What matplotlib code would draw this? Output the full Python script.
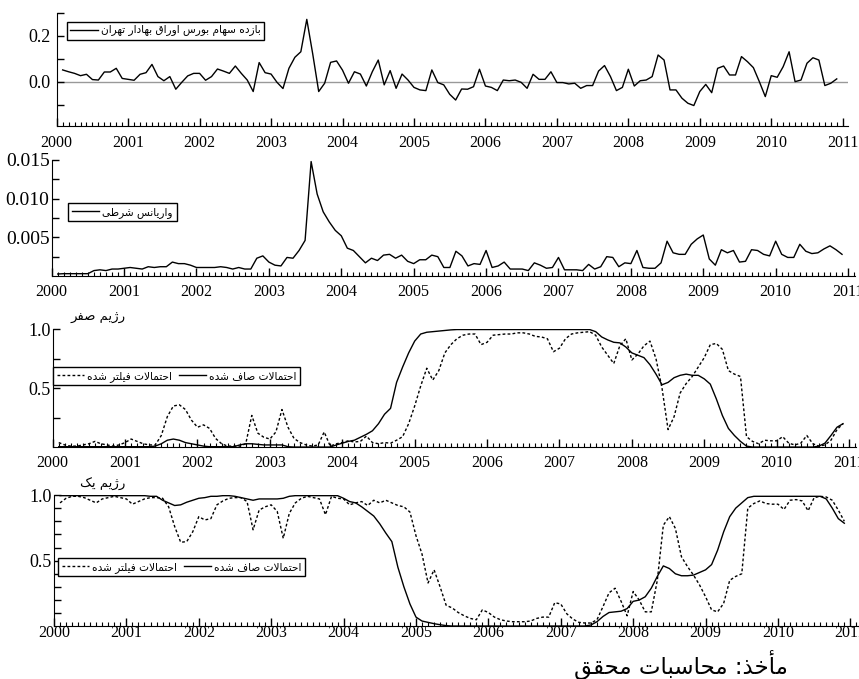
import numpy as np
import matplotlib
matplotlib.use("Agg")
import matplotlib.pyplot as plt
from matplotlib.lines import Line2D
from matplotlib.ticker import FixedLocator, MultipleLocator

plt.rcParams['font.family'] = ['Liberation Serif', 'DejaVu Sans']

# monthly observations, Feb 2000 .. Dec 2010
months = np.arange(1, 132)
year_ticks = list(range(2000, 2012))
year_labels = [str(y) for y in year_ticks]

returns = [
    0.051, 0.043, 0.036, 0.026, 0.032, 0.009, 0.007, 0.042, 0.042, 0.058,
    0.014, 0.010, 0.006, 0.032, 0.039, 0.075, 0.022, 0.004, 0.022, -0.033,
    -0.003, 0.025, 0.036, 0.036, 0.006, 0.022, 0.055, 0.046, 0.036, 0.068,
    0.036, 0.007, -0.043, 0.083, 0.039, 0.033, -0.003, -0.030, 0.058, 0.106,
    0.130, 0.271, 0.120, -0.043, -0.007, 0.084, 0.090, 0.050, -0.007, 0.043,
    0.033, -0.019, 0.043, 0.094, -0.014, 0.048, -0.029, 0.033, 0.007, -0.025,
    -0.036, -0.039, 0.051, -0.004, -0.014, -0.055, -0.080, -0.032, -0.033, -0.022,
    0.054, -0.019, -0.025, -0.039, 0.007, 0.004, 0.007, -0.003, -0.029, 0.032,
    0.010, 0.010, 0.043, -0.004, -0.004, -0.010, -0.007, -0.029, -0.017, -0.017,
    0.046, 0.070, 0.022, -0.039, -0.025, 0.054, -0.019, 0.004, 0.007, 0.022,
    0.116, 0.094, -0.036, -0.036, -0.072, -0.094, -0.104, -0.043, -0.012, -0.048,
    0.058, 0.068, 0.029, 0.029, 0.109, 0.087, 0.061, 0.000, -0.065, 0.026,
    0.019, 0.065, 0.130, 0.000, 0.007, 0.080, 0.104, 0.094, -0.017, -0.007,
    0.012,
]

cond_variance = [
    0.00026, 0.0003, 0.0003, 0.0003, 0.0003, 0.0003, 0.0007, 0.0008, 0.0007, 0.0009,
    0.0009, 0.0010, 0.0011, 0.0010, 0.0009, 0.0012, 0.0011, 0.0012, 0.0012, 0.0018,
    0.0016, 0.0016, 0.0014, 0.0011, 0.0011, 0.0011, 0.0011, 0.0012, 0.0011, 0.0009,
    0.0011, 0.0009, 0.0009, 0.0023, 0.0026, 0.0018, 0.0014, 0.0013, 0.0024, 0.0023,
    0.0033, 0.0046, 0.0148, 0.0106, 0.0083, 0.0070, 0.0059, 0.0052, 0.0036, 0.0033,
    0.0025, 0.0017, 0.0023, 0.0020, 0.0027, 0.0028, 0.0023, 0.0027, 0.0019, 0.0016,
    0.0021, 0.0021, 0.0027, 0.0025, 0.0011, 0.0011, 0.0032, 0.0026, 0.0013, 0.0016,
    0.0015, 0.0033, 0.0011, 0.0013, 0.0018, 0.0009, 0.0009, 0.0009, 0.0007, 0.0017,
    0.0014, 0.0010, 0.0011, 0.0024, 0.0008, 0.0008, 0.0008, 0.0007, 0.0015, 0.0009,
    0.0012, 0.0025, 0.0024, 0.0012, 0.0017, 0.0016, 0.0033, 0.0011, 0.0010, 0.0010,
    0.0017, 0.0045, 0.0030, 0.0028, 0.0028, 0.0041, 0.0048, 0.0053, 0.0022, 0.0014,
    0.0034, 0.0030, 0.0033, 0.0018, 0.0019, 0.0034, 0.0033, 0.0028, 0.0026, 0.0045,
    0.0028, 0.0024, 0.0024, 0.0041, 0.0032, 0.0029, 0.0030, 0.0035, 0.0039, 0.0034,
    0.0028,
]

regime0_smoothed = [
    0.005, 0.005, 0.005, 0.005, 0.005, 0.005, 0.005, 0.005, 0.005, 0.005,
    0.005, 0.005, 0.005, 0.005, 0.005, 0.005, 0.01, 0.03, 0.06, 0.07,
    0.06, 0.04, 0.03, 0.02, 0.01, 0.005, 0.005, 0.005, 0.005, 0.005,
    0.02, 0.03, 0.03, 0.025, 0.02, 0.02, 0.02, 0.02, 0.005, 0.002,
    0.002, 0.002, 0.002, 0.002, 0.002, 0.002, 0.02, 0.035, 0.05, 0.06,
    0.085, 0.11, 0.14, 0.20, 0.28, 0.33, 0.55, 0.68, 0.80, 0.90,
    0.96, 0.975, 0.98, 0.985, 0.99, 0.995, 0.998, 0.998, 0.998, 0.998,
    0.998, 0.998, 0.998, 0.998, 0.998, 0.998, 0.998, 0.998, 0.998, 0.998,
    0.998, 0.998, 0.998, 0.998, 0.998, 0.998, 0.998, 0.998, 0.998, 0.98,
    0.935, 0.91, 0.89, 0.885, 0.85, 0.80, 0.78, 0.76, 0.70, 0.62,
    0.53, 0.55, 0.59, 0.61, 0.62, 0.61, 0.61, 0.58, 0.535, 0.41,
    0.27, 0.16, 0.10, 0.05, 0.01, 0.002, 0.002, 0.002, 0.002, 0.002,
    0.002, 0.002, 0.002, 0.002, 0.002, 0.002, 0.01, 0.035, 0.10, 0.17,
    0.20,
]

regime0_filtered = [
    0.04, 0.02, 0.01, 0.01, 0.02, 0.03, 0.05, 0.03, 0.02, 0.01,
    0.02, 0.04, 0.07, 0.05, 0.03, 0.02, 0.02, 0.10, 0.26, 0.35,
    0.36, 0.32, 0.23, 0.17, 0.19, 0.16, 0.075, 0.03, 0.01, 0.01,
    0.01, 0.03, 0.27, 0.12, 0.085, 0.07, 0.13, 0.32, 0.17, 0.075,
    0.04, 0.02, 0.01, 0.02, 0.13, 0.01, 0.03, 0.04, 0.055, 0.045,
    0.05, 0.095, 0.04, 0.03, 0.04, 0.035, 0.06, 0.09, 0.20, 0.35,
    0.52, 0.67, 0.57, 0.65, 0.80, 0.87, 0.92, 0.95, 0.96, 0.96,
    0.87, 0.89, 0.95, 0.955, 0.96, 0.96, 0.97, 0.97, 0.96, 0.94,
    0.935, 0.92, 0.81, 0.84, 0.92, 0.96, 0.97, 0.975, 0.98, 0.95,
    0.85, 0.78, 0.71, 0.86, 0.92, 0.74, 0.79, 0.86, 0.90, 0.75,
    0.50, 0.15, 0.26, 0.46, 0.54, 0.60, 0.68, 0.76, 0.87, 0.88,
    0.83, 0.65, 0.62, 0.60, 0.09, 0.05, 0.03, 0.06, 0.055, 0.055,
    0.09, 0.035, 0.02, 0.035, 0.10, 0.03, 0.01, 0.02, 0.06, 0.15,
    0.20,
]

regime1_smoothed = [
    0.995, 0.995, 0.995, 0.995, 0.995, 0.995, 0.995, 0.995, 0.995, 0.995,
    0.995, 0.995, 0.995, 0.995, 0.995, 0.99, 0.99, 0.96, 0.94, 0.92,
    0.925, 0.945, 0.96, 0.975, 0.98, 0.99, 0.99, 0.995, 0.995, 0.99,
    0.98, 0.97, 0.96, 0.97, 0.97, 0.97, 0.97, 0.975, 0.99, 0.995,
    0.995, 0.995, 0.995, 0.995, 0.995, 0.995, 0.995, 0.975, 0.95, 0.94,
    0.91, 0.875, 0.84, 0.78, 0.71, 0.645, 0.45, 0.30, 0.17, 0.07,
    0.04, 0.03, 0.02, 0.012, 0.005, 0.002, 0.002, 0.002, 0.002, 0.002,
    0.002, 0.002, 0.002, 0.002, 0.002, 0.002, 0.002, 0.002, 0.002, 0.002,
    0.002, 0.002, 0.002, 0.002, 0.002, 0.002, 0.002, 0.002, 0.01, 0.035,
    0.075, 0.105, 0.11, 0.115, 0.135, 0.19, 0.20, 0.225, 0.29, 0.38,
    0.46, 0.44, 0.40, 0.385, 0.385, 0.39, 0.41, 0.43, 0.47, 0.58,
    0.72, 0.835, 0.90, 0.94, 0.98, 0.99, 0.99, 0.99, 0.99, 0.99,
    0.99, 0.99, 0.99, 0.99, 0.99, 0.99, 0.99, 0.97, 0.90, 0.82,
    0.785,
]

regime1_filtered = [
    0.94, 0.975, 0.99, 0.99, 0.98, 0.96, 0.94, 0.97, 0.98, 0.99,
    0.98, 0.97, 0.93, 0.95, 0.97, 0.98, 0.98, 0.975, 0.91, 0.76,
    0.64, 0.645, 0.72, 0.835, 0.81, 0.82, 0.925, 0.955, 0.975, 0.98,
    0.98, 0.95, 0.735, 0.885, 0.91, 0.925, 0.875, 0.67, 0.86, 0.94,
    0.975, 0.99, 0.98, 0.97, 0.85, 0.99, 0.975, 0.97, 0.925, 0.94,
    0.95, 0.92, 0.96, 0.94, 0.96, 0.94, 0.92, 0.91, 0.87, 0.69,
    0.55, 0.33, 0.43, 0.30, 0.16, 0.14, 0.105, 0.08, 0.06, 0.05,
    0.125, 0.105, 0.07, 0.05, 0.04, 0.035, 0.035, 0.035, 0.04, 0.06,
    0.07, 0.07, 0.18, 0.17, 0.095, 0.055, 0.03, 0.025, 0.025, 0.05,
    0.15, 0.255, 0.29, 0.19, 0.08, 0.265, 0.20, 0.11, 0.11, 0.35,
    0.77, 0.835, 0.745, 0.53, 0.455, 0.39, 0.315, 0.225, 0.125, 0.11,
    0.175, 0.35, 0.38, 0.40, 0.90, 0.935, 0.955, 0.935, 0.93, 0.93,
    0.89, 0.96, 0.965, 0.955, 0.88, 0.98, 0.99, 0.985, 0.96, 0.885,
    0.80,
]

label_returns = 'بازده سهام بورس اوراق بهادار تهران'
label_variance = 'واریانس شرطی'
label_smoothed = 'احتمالات صاف شده'
label_filtered = 'احتمالات فیلتر شده'
title_regime0 = 'رژیم صفر'
title_regime1 = 'رژیم یک'
source_note = 'مأخذ: محاسبات محقق'

# matplotlib has no arabic shaping, so pick presentation forms by hand
# forms: isolated, final, initial, medial
FORMS = {
    'ا': '\uFE8D\uFE8E', 'أ': '\uFE83\uFE84', 'د': '\uFEA9\uFEAA',
    'ذ': '\uFEAB\uFEAC', 'ر': '\uFEAD\uFEAE', 'ز': '\uFEAF\uFEB0',
    'ژ': '\uFB8A\uFB8B', 'و': '\uFEED\uFEEE',
    'ب': '\uFE8F\uFE90\uFE91\uFE92', 'ت': '\uFE95\uFE96\uFE97\uFE98',
    'ح': '\uFEA1\uFEA2\uFEA3\uFEA4', 'خ': '\uFEA5\uFEA6\uFEA7\uFEA8',
    'س': '\uFEB1\uFEB2\uFEB3\uFEB4', 'ش': '\uFEB5\uFEB6\uFEB7\uFEB8',
    'ص': '\uFEB9\uFEBA\uFEBB\uFEBC', 'ط': '\uFEC1\uFEC2\uFEC3\uFEC4',
    'ف': '\uFED1\uFED2\uFED3\uFED4', 'ق': '\uFED5\uFED6\uFED7\uFED8',
    'ک': '\uFB8E\uFB8F\uFB90\uFB91', 'ك': '\uFB8E\uFB8F\uFB90\uFB91',
    'ل': '\uFEDD\uFEDE\uFEDF\uFEE0', 'م': '\uFEE1\uFEE2\uFEE3\uFEE4',
    'ن': '\uFEE5\uFEE6\uFEE7\uFEE8', 'ه': '\uFEE9\uFEEA\uFEEB\uFEEC',
    'ی': '\uFBFC\uFBFD\uFBFE\uFBFF', 'ي': '\uFBFC\uFBFD\uFBFE\uFBFF',
}
LAM_ALEF = {'ا': '\uFEFB\uFEFC', 'أ': '\uFEF7\uFEF8'}


def fa(text):
    out = []
    i = 0
    while i < len(text):
        c = text[i]
        if c not in FORMS:
            out.append(c)
            i += 1
            continue
        prev = text[i - 1] if i > 0 else ''
        joins_prev = prev in FORMS and len(FORMS[prev]) == 4
        nxt = text[i + 1] if i + 1 < len(text) else ''
        if c == 'ل' and nxt in LAM_ALEF:
            out.append(LAM_ALEF[nxt][1 if joins_prev else 0])
            i += 2
            continue
        joins_next = len(FORMS[c]) == 4 and nxt in FORMS
        idx = [[0, 2], [1, 3]][joins_prev][joins_next]
        out.append(FORMS[c][idx])
        i += 1
    return ''.join(reversed(out))


fa_font = {'family': ['DejaVu Sans'], 'size': 7.6}

t = 2000 + months / 12

fig = plt.figure(figsize=(8.59, 6.79), dpi=100)
W, H = 859, 679


def px_axes(x0, y_top, x1, y_bot):
    return fig.add_axes([x0 / W, 1 - y_bot / H, (x1 - x0) / W, (y_bot - y_top) / H])


def style(ax, xmax, ypad, xpad):
    ax.spines['top'].set_visible(False)
    ax.spines['right'].set_visible(False)
    ax.set_xlim(2000, xmax)
    ax.xaxis.set_major_locator(FixedLocator(year_ticks))
    ax.set_xticklabels(year_labels)
    ax.xaxis.set_minor_locator(MultipleLocator(1 / 12))
    ax.tick_params(axis='x', which='major', direction='in', length=6, width=1,
                   labelsize=11.5, pad=xpad)
    ax.tick_params(axis='x', which='minor', direction='in', length=3, width=0.8)
    ax.tick_params(axis='y', which='both', direction='in', length=5, width=1,
                   labelsize=13, pad=ypad)


def add_legend(ax, handles, labels, x, y, ncol=1):
    leg = ax.legend(handles, labels, loc='upper left', bbox_to_anchor=(x / W, 1 - y / H),
                    bbox_transform=fig.transFigure, ncol=ncol, frameon=True,
                    fancybox=False, framealpha=1, edgecolor='black', borderpad=0.35,
                    borderaxespad=0, handlelength=2.6, handletextpad=0.3,
                    columnspacing=0.6, prop=fa_font)
    leg.get_frame().set_linewidth(1)


solid = dict(color='black', lw=1.0)
dotted = dict(color='black', lw=1.0, linestyle=(0, (2, 1.6)))

# panel 1: returns
ax1 = px_axes(56.7, 12.7, 847.7, 126)
ax1.axhline(0, color='#999999', lw=1, zorder=1)
ax1.plot(t, returns, **solid)
ax1.set_ylim(-0.193, 0.3)
style(ax1, 2011.07, 4.5, 6.5)
ax1.yaxis.set_major_locator(FixedLocator([0.0, 0.2]))
ax1.set_yticklabels(['0.0', '0.2'])
ax1.yaxis.set_minor_locator(FixedLocator([-0.1, 0.1, 0.3]))
add_legend(ax1, [Line2D([], [], **solid)], [fa(label_returns)], 66.7, 21.7)

# panel 2: conditional variance
ax2 = px_axes(51.7, 160, 855.3, 276)
ax2.plot(t, cond_variance, **solid)
ax2.set_ylim(0, 0.015)
style(ax2, 2011.1, 1.5, 5.5)
ax2.yaxis.set_major_locator(FixedLocator([0.005, 0.010, 0.015]))
ax2.set_yticklabels(['0.005', '0.010', '0.015'])
ax2.yaxis.set_minor_locator(FixedLocator([0.0025, 0.0075, 0.0125]))
ax2.tick_params(axis='y', labelsize=14)
add_legend(ax2, [Line2D([], [], **solid)], [fa(label_variance)], 68, 203)

# panel 3: regime zero
ax3 = px_axes(52.7, 329.3, 856.3, 447.3)
ax3.plot(t, regime0_filtered, **dotted)
ax3.plot(t, regime0_smoothed, **solid)
ax3.set_ylim(0, 1)
style(ax3, 2011.1, 1.5, 5.5)
ax3.yaxis.set_major_locator(FixedLocator([0.5, 1.0]))
ax3.set_yticklabels(['0.5', '1.0'])
ax3.yaxis.set_minor_locator(FixedLocator([0.25, 0.75]))
add_legend(ax3, [Line2D([], [], **dotted), Line2D([], [], **solid)],
           [fa(label_filtered), fa(label_smoothed)], 53, 367, ncol=2)
fig.text(98 / W, 1 - 318 / H, fa(title_regime0), ha='center', va='center',
         family=['DejaVu Sans'], fontsize=9.5)

# panel 4: regime one
ax4 = px_axes(54, 495, 857.6, 626.3)
ax4.plot(t, regime1_filtered, **dotted)
ax4.plot(t, regime1_smoothed, **solid)
ax4.set_ylim(0, 1)
style(ax4, 2011.1, 1.5, -1)
ax4.yaxis.set_major_locator(FixedLocator([0.5, 1.0]))
ax4.set_yticklabels(['0.5', '1.0'])
ax4.yaxis.set_minor_locator(FixedLocator([0.1, 0.2, 0.3, 0.4, 0.6, 0.7, 0.8, 0.9]))
add_legend(ax4, [Line2D([], [], **dotted), Line2D([], [], **solid)],
           [fa(label_filtered), fa(label_smoothed)], 58, 558, ncol=2)
fig.text(103 / W, 1 - 484 / H, fa(title_regime1), ha='center', va='center',
         family=['DejaVu Sans'], fontsize=9.5)

fig.text(681 / W, 1 - 665 / H, fa(source_note), ha='center', va='center',
         family=['DejaVu Sans'], fontsize=16.5)

fig.savefig('out.png', dpi=100)
